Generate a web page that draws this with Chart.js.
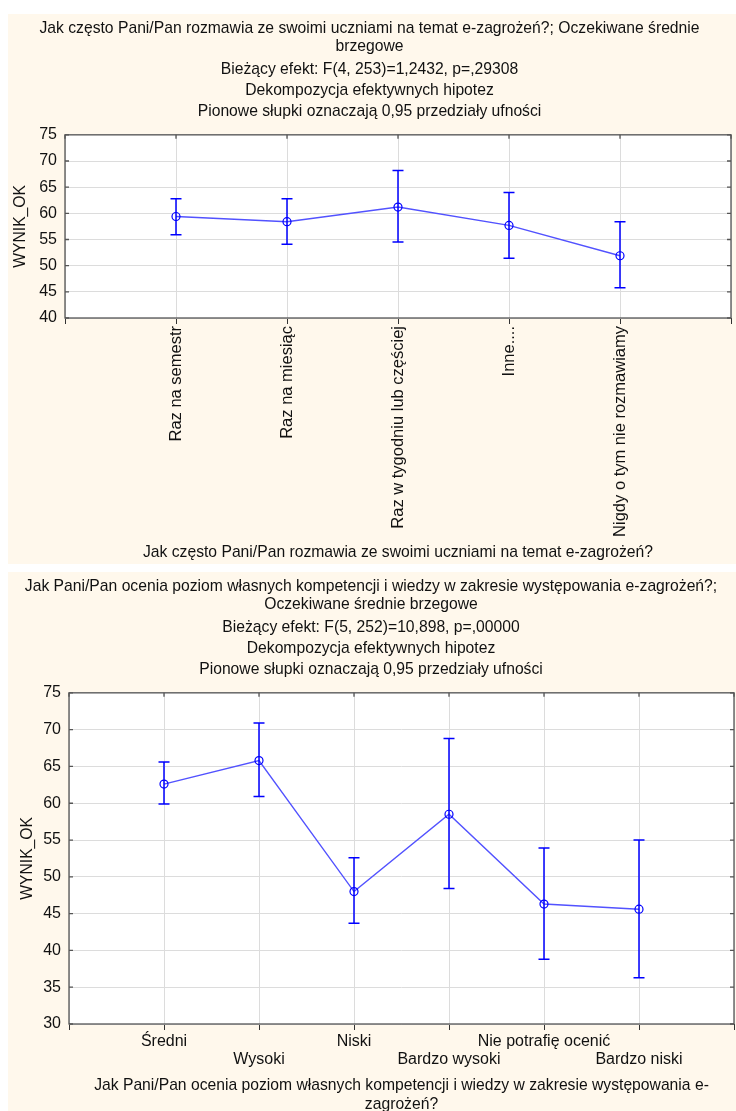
<!DOCTYPE html>
<html>
<head>
<meta charset="utf-8">
<script src="https://cdn.jsdelivr.net/npm/chart.js@4.4.1/dist/chart.umd.min.js"></script>
<style>
  body { margin: 0; background: #fff; width: 736px; height: 1111px; overflow: hidden; position: relative; }
  .panel { position: absolute; left: 8px; width: 728px; background: #fff8ec; }
  .panel canvas { display: block; }
  #panel1 { top: 14px; height: 550px; }
  #panel2 { top: 572px; height: 539px; }
</style>
</head>
<body>
<div class="panel" id="panel1"><canvas id="freqChart" width="728" height="550"></canvas></div>
<div class="panel" id="panel2"><canvas id="compChart" width="728" height="539"></canvas></div>
<script>
// how often teachers talk about e-threats
const freqLabels = ['Raz na semestr', 'Raz na miesiąc', 'Raz w tygodniu lub częściej', 'Inne....', 'Nigdy o tym nie rozmawiamy'];
const freqMeans = [59.4, 58.4, 61.2, 57.7, 51.9];
const freqLower = [55.9, 54.1, 54.5, 51.4, 45.8];
const freqUpper = [62.8, 62.8, 68.2, 64.0, 58.4];
const freqRange = [40, 75];

// self-rated competence
const compLabels = ['Średni', 'Wysoki', 'Niski', 'Bardzo wysoki', 'Nie potrafię ocenić', 'Bardzo niski'];
const compMeans = [62.6, 65.8, 48.0, 58.5, 46.3, 45.6];
const compLower = [59.9, 60.9, 43.7, 48.4, 38.8, 36.3];
const compUpper = [65.6, 70.9, 52.6, 68.8, 53.9, 55.0];
const compRange = [30, 75];

const FONT = "'Liberation Sans', Arial, sans-serif";

// white plot background, error bars, frame and inner ticks
const errorBars = {
    id: 'errorBars',
    beforeDraw(chart) {
        const { ctx, chartArea: a } = chart;
        ctx.save();
        ctx.fillStyle = '#fff';
        ctx.fillRect(a.left, a.top, a.width, a.height);
        ctx.restore();
    },
    afterDatasetsDraw(chart, args, opts) {
        const { ctx, scales: { x, y } } = chart;
        ctx.save();
        ctx.strokeStyle = '#0000ff';
        ctx.lineWidth = 1.5;
        opts.lower.forEach((lo, i) => {
            const px = x.getPixelForValue(i + 1);
            const y1 = y.getPixelForValue(lo);
            const y2 = y.getPixelForValue(opts.upper[i]);
            ctx.beginPath();
            ctx.moveTo(px, y1); ctx.lineTo(px, y2);
            ctx.moveTo(px - 5.5, y1); ctx.lineTo(px + 5.5, y1);
            ctx.moveTo(px - 5.5, y2); ctx.lineTo(px + 5.5, y2);
            ctx.stroke();
        });
        ctx.restore();
    },
    afterDraw(chart, args, opts) {
        const { ctx, chartArea: a, scales: { x, y } } = chart;
        ctx.save();
        ctx.strokeStyle = '#555';
        ctx.lineWidth = 1.3;
        ctx.strokeRect(a.left, a.top, a.width, a.height);
        ctx.beginPath();
        y.ticks.forEach(t => {
            const py = y.getPixelForValue(t.value);
            ctx.moveTo(a.left, py); ctx.lineTo(a.left + 4, py);
            ctx.moveTo(a.right, py); ctx.lineTo(a.right - 4, py);
        });
        x.ticks.forEach(t => {
            const px = x.getPixelForValue(t.value);
            ctx.moveTo(px, a.top); ctx.lineTo(px, a.top + 4);
        });
        ctx.stroke();
        ctx.restore();
    }
};

function makeChart(id, cfg) {
    const n = cfg.labels.length;
    const config = {
        type: 'line',
        data: {
            datasets: [{
                data: cfg.means.map((m, i) => ({ x: i + 1, y: m })),
                borderColor: '#5252ff',
                borderWidth: 1.4,
                tension: 0,
                pointStyle: 'circle',
                pointRadius: 4,
                pointBorderWidth: 1.2,
                pointBorderColor: '#0000ff',
                pointBackgroundColor: 'rgba(0,0,0,0)'
            }]
        },
        options: {
            responsive: false,
            animation: false,
            layout: { autoPadding: false, padding: { left: 0, right: cfg.padRight, top: 0, bottom: 0 } },
            scales: {
                x: {
                    type: 'linear',
                    min: 0,
                    max: n + 1,
                    border: { display: false },
                    grid: { color: '#dcdcdc', tickColor: '#333', tickLength: 6 },
                    ticks: {
                        stepSize: 1,
                        autoSkip: false,
                        minRotation: cfg.rotation,
                        maxRotation: cfg.rotation,
                        padding: 2,
                        color: '#111',
                        font: { family: FONT, size: cfg.tickSize, lineHeight: 1.15 },
                        callback: cfg.tickLabel
                    },
                    title: {
                        display: true,
                        text: cfg.xTitle,
                        color: '#111',
                        font: { family: FONT, size: 15.7, lineHeight: 1.2 },
                        padding: { top: 0, bottom: cfg.xTitlePad }
                    },
                    afterFit(s) {
                        s.height = cfg.xHeight;
                        s.paddingLeft = 0;
                        s.paddingRight = 0;
                    }
                },
                y: {
                    min: cfg.range[0],
                    max: cfg.range[1],
                    border: { display: false },
                    grid: { color: '#dcdcdc', drawTicks: false },
                    ticks: {
                        stepSize: 5,
                        padding: 8,
                        color: '#111',
                        font: { family: FONT, size: 16 }
                    },
                    title: {
                        display: true,
                        text: 'WYNIK_OK',
                        color: '#111',
                        font: { family: FONT, size: 15.7, lineHeight: 1.2 },
                        padding: { top: cfg.yTitlePad, bottom: 0 }
                    },
                    afterFit(s) { s.width = cfg.yWidth; }
                }
            },
            plugins: {
                legend: { display: false },
                tooltip: { enabled: false },
                title: {
                    display: true,
                    text: cfg.title,
                    color: '#111',
                    font: { family: FONT, size: 15.7, weight: 'normal', lineHeight: 1.17 },
                    padding: { top: 5, bottom: 3 }
                },
                subtitle: {
                    display: true,
                    text: [cfg.effect, 'Dekompozycja efektywnych hipotez', 'Pionowe słupki oznaczają 0,95 przedziały ufności'],
                    color: '#111',
                    font: { family: FONT, size: 15.7, lineHeight: 1.34 },
                    padding: { top: 0, bottom: 13 }
                },
                errorBars: { lower: cfg.lower, upper: cfg.upper }
            }
        },
        plugins: [errorBars]
    };
    return new Chart(document.getElementById(id).getContext('2d'), config);
}

makeChart('freqChart', {
    labels: freqLabels,
    means: freqMeans,
    lower: freqLower,
    upper: freqUpper,
    range: freqRange,
    rotation: 90,
    tickSize: 16.5,
    tickLabel: v => freqLabels[v - 1] || '',
    title: ['Jak często Pani/Pan rozmawia ze swoimi uczniami na temat e-zagrożeń?; Oczekiwane średnie', 'brzegowe'],
    effect: 'Bieżący efekt: F(4, 253)=1,2432, p=,29308',
    xTitle: 'Jak często Pani/Pan rozmawia ze swoimi uczniami na temat e-zagrożeń?',
    xTitlePad: 2,
    xHeight: 246,
    yWidth: 57,
    yTitlePad: 3,
    padRight: 5
});

// alternate labels go on a second row
makeChart('compChart', {
    labels: compLabels,
    means: compMeans,
    lower: compLower,
    upper: compUpper,
    range: compRange,
    rotation: 0,
    tickSize: 16,
    tickLabel: v => {
        const l = compLabels[v - 1];
        if (!l) return '';
        return v % 2 === 0 ? ['', l] : l;
    },
    title: ['Jak Pani/Pan ocenia poziom własnych kompetencji i wiedzy w zakresie występowania e-zagrożeń?;', 'Oczekiwane średnie brzegowe'],
    effect: 'Bieżący efekt: F(5, 252)=10,898, p=,00000',
    xTitle: ['Jak Pani/Pan ocenia poziom własnych kompetencji i wiedzy w zakresie występowania e-', 'zagrożeń?'],
    xTitlePad: -3,
    xHeight: 87,
    yWidth: 61,
    yTitlePad: 10,
    padRight: 2
});
</script>
</body>
</html>
